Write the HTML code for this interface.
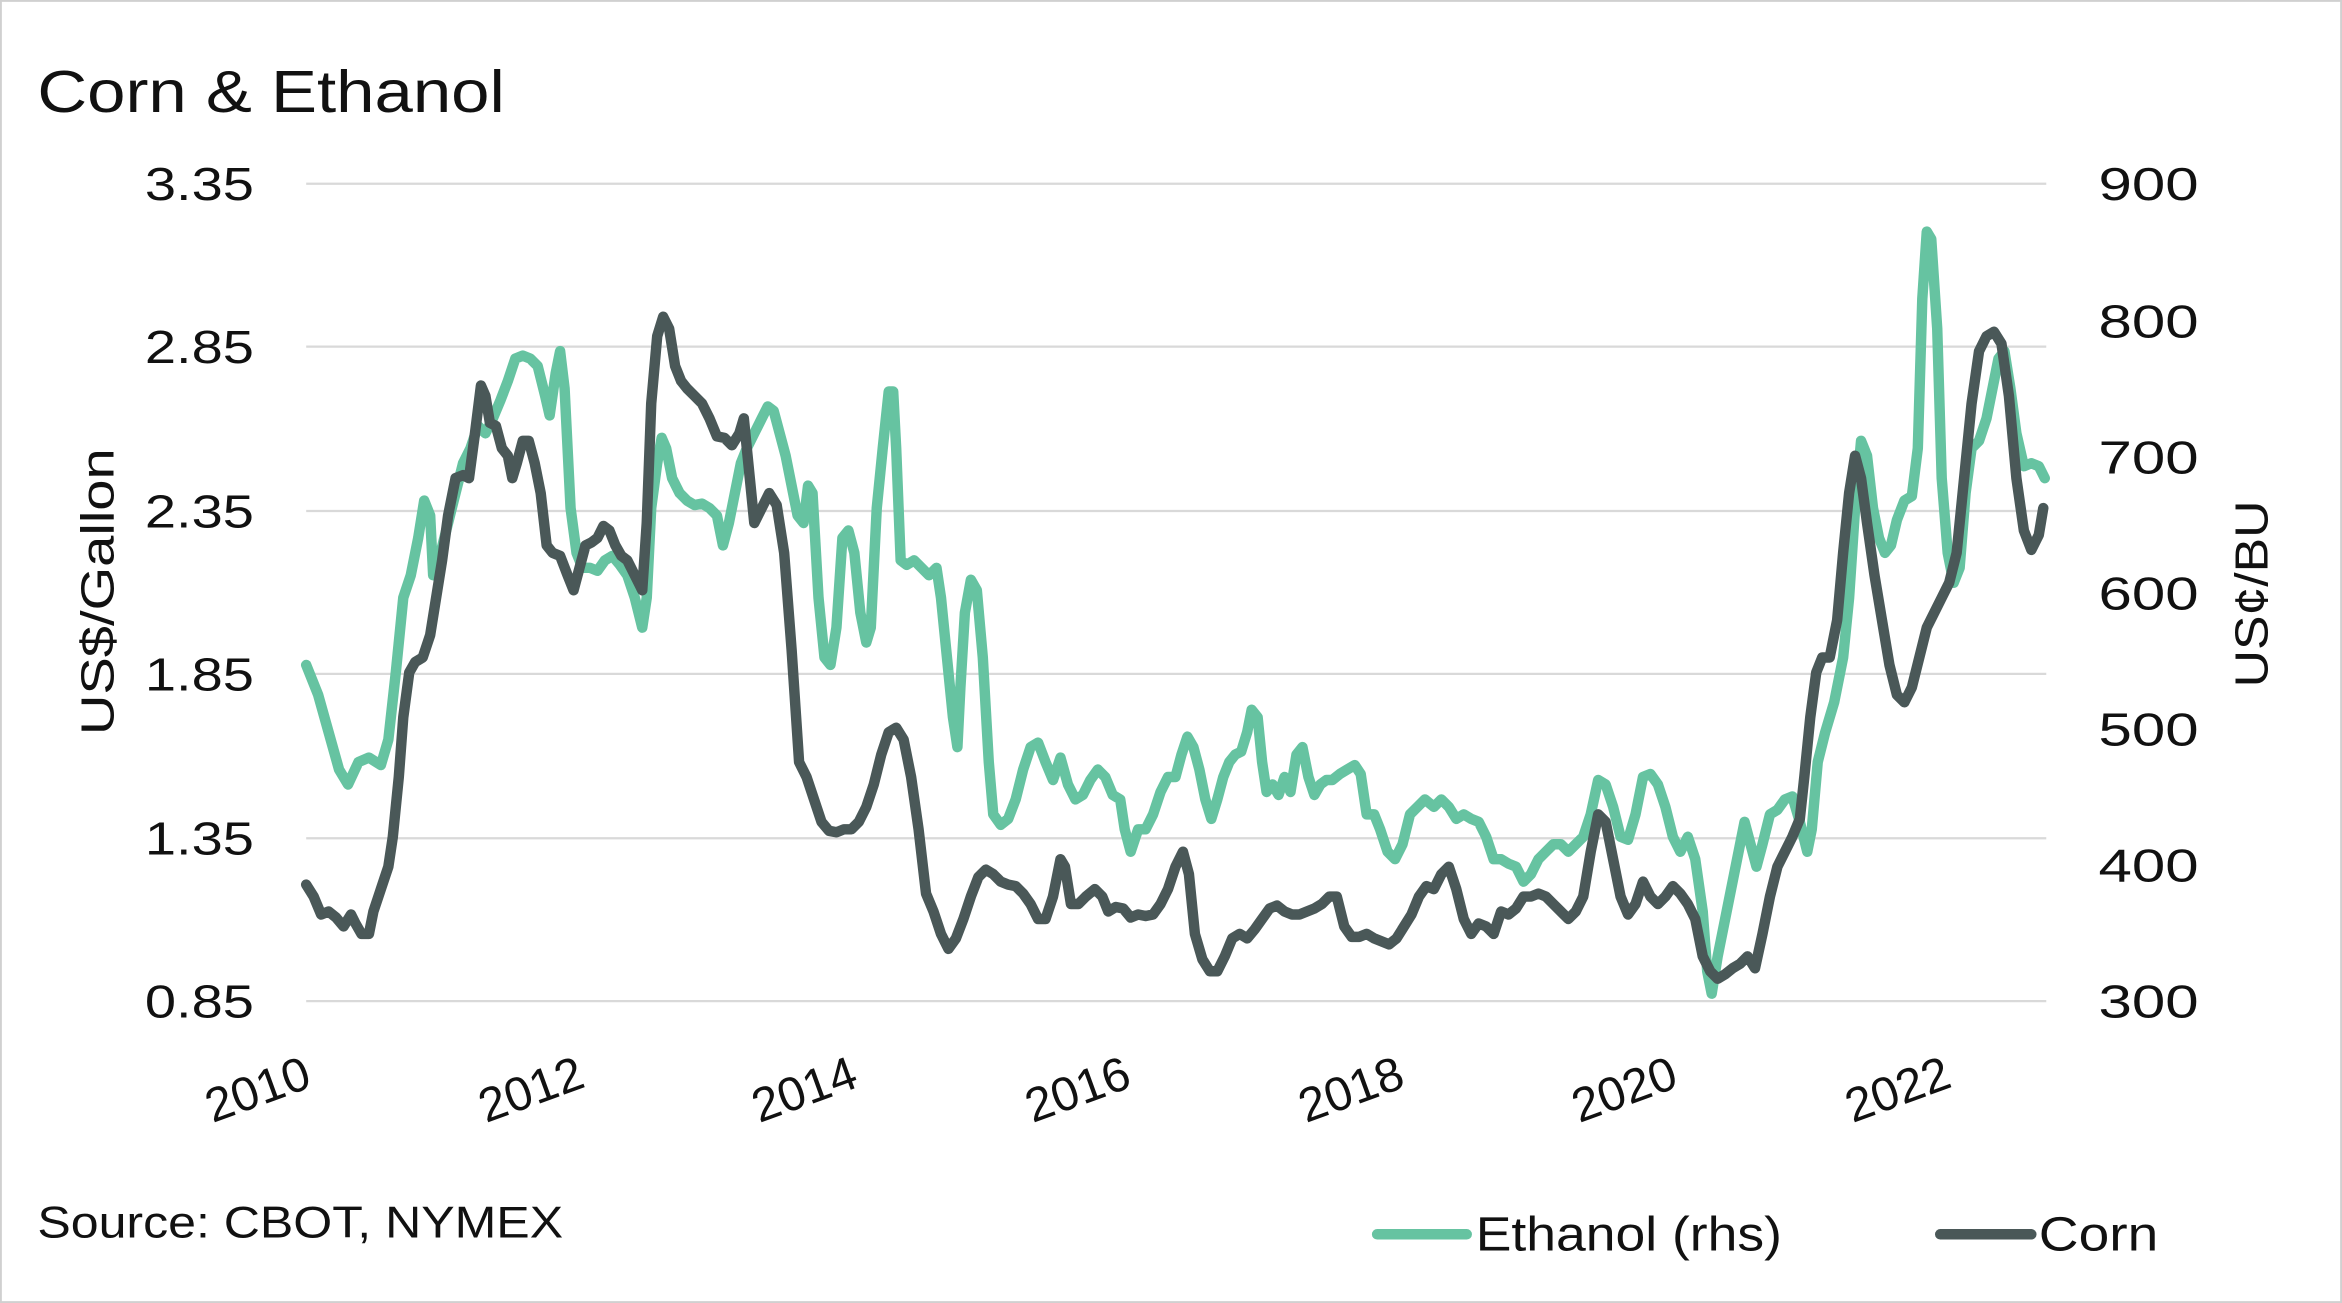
<!DOCTYPE html>
<html><head><meta charset="utf-8">
<style>
html,body{margin:0;padding:0;background:#fff;}
svg{display:block;}
text{font-family:"Liberation Sans",sans-serif;fill:#111;}
</style></head><body>
<svg width="2342" height="1303" viewBox="0 0 1568 872" preserveAspectRatio="none" xmlns="http://www.w3.org/2000/svg">
<rect x="0.5" y="0.5" width="1567" height="871" fill="#fff" stroke="#d0d0d0" stroke-width="1.5"/>
<text x="25" y="75" font-size="40" textLength="313" lengthAdjust="spacingAndGlyphs">Corn &amp; Ethanol</text>
<g stroke="#d9d9d9" stroke-width="1.5">
<line x1="205" x2="1370" y1="123" y2="123"/><line x1="205" x2="1370" y1="232" y2="232"/>
<line x1="205" x2="1370" y1="342" y2="342"/><line x1="205" x2="1370" y1="451" y2="451"/>
<line x1="205" x2="1370" y1="561" y2="561"/><line x1="205" x2="1370" y1="670" y2="670"/>
</g>
<g font-size="31">
<text x="97" y="134" textLength="73" lengthAdjust="spacingAndGlyphs">3.35</text>
<text x="97" y="243" textLength="73" lengthAdjust="spacingAndGlyphs">2.85</text>
<text x="97" y="353" textLength="73" lengthAdjust="spacingAndGlyphs">2.35</text>
<text x="97" y="462" textLength="73" lengthAdjust="spacingAndGlyphs">1.85</text>
<text x="97" y="572" textLength="73" lengthAdjust="spacingAndGlyphs">1.35</text>
<text x="97" y="681" textLength="73" lengthAdjust="spacingAndGlyphs">0.85</text>
</g>
<g font-size="31">
<text x="1405" y="134" textLength="67" lengthAdjust="spacingAndGlyphs">900</text>
<text x="1405" y="226" textLength="67" lengthAdjust="spacingAndGlyphs">800</text>
<text x="1405" y="317" textLength="67" lengthAdjust="spacingAndGlyphs">700</text>
<text x="1405" y="408" textLength="67" lengthAdjust="spacingAndGlyphs">600</text>
<text x="1405" y="499" textLength="67" lengthAdjust="spacingAndGlyphs">500</text>
<text x="1405" y="590" textLength="67" lengthAdjust="spacingAndGlyphs">400</text>
<text x="1405" y="681" textLength="67" lengthAdjust="spacingAndGlyphs">300</text>
</g>
<text transform="translate(76,492) rotate(-90)" font-size="31" textLength="192" lengthAdjust="spacingAndGlyphs">US$/Gallon</text>
<text transform="translate(1518,460) rotate(-90)" font-size="31" textLength="125" lengthAdjust="spacingAndGlyphs">US¢/BU</text>
<g font-size="32" text-anchor="end">
<text transform="translate(210,727) rotate(-20)" textLength="72" lengthAdjust="spacingAndGlyphs">2010</text>
<text transform="translate(393,727) rotate(-20)" textLength="72" lengthAdjust="spacingAndGlyphs">2012</text>
<text transform="translate(576,727) rotate(-20)" textLength="72" lengthAdjust="spacingAndGlyphs">2014</text>
<text transform="translate(759,727) rotate(-20)" textLength="72" lengthAdjust="spacingAndGlyphs">2016</text>
<text transform="translate(942,727) rotate(-20)" textLength="72" lengthAdjust="spacingAndGlyphs">2018</text>
<text transform="translate(1125,727) rotate(-20)" textLength="72" lengthAdjust="spacingAndGlyphs">2020</text>
<text transform="translate(1308,727) rotate(-20)" textLength="72" lengthAdjust="spacingAndGlyphs">2022</text>
</g>
<polyline fill="none" stroke="#66c3a1" stroke-width="7" stroke-linejoin="round" stroke-linecap="round" points="205,445 213,465 220,490 227,515 233,525 240,510 247,507 255,512 260,495 265,450 270,400 275,385 280,360 284,335 288,345 290,385 295,370 300,350 305,330 310,310 315,300 320,285 325,290 330,280 335,268 340,255 345,240 350,238 355,240 360,245 365,265 368,278 372,250 375,235 378,260 382,340 386,370 390,380 395,380 400,382 405,375 410,372 415,378 420,385 425,400 430,420 433,400 436,340 440,310 443,293 446,300 450,320 455,330 460,335 465,338 470,337 475,340 480,345 484,365 488,350 492,330 496,310 500,300 505,290 510,280 514,272 518,275 522,290 526,305 530,325 534,345 538,350 541,325 544,330 548,400 552,440 556,445 560,420 564,360 568,355 572,370 576,410 580,430 583,420 587,340 591,300 595,262 598,262 600,300 603,375 607,378 612,375 617,380 622,385 627,380 630,400 634,440 638,480 641,500 643,460 646,410 650,388 654,395 658,440 662,510 665,545 670,552 675,548 680,535 685,515 690,500 695,497 700,510 705,522 710,507 715,525 720,535 725,532 730,522 735,515 740,520 745,532 750,535 753,555 757,570 762,555 767,555 772,545 777,530 782,520 787,520 791,505 795,493 799,500 803,515 807,535 811,548 815,535 819,520 823,510 827,505 831,503 835,490 838,475 842,480 845,510 848,530 852,525 856,532 860,520 864,530 868,505 872,500 876,520 880,532 884,525 888,522 892,522 897,518 902,515 907,512 911,518 915,545 920,545 924,555 929,570 934,575 939,565 944,545 949,540 954,535 960,540 965,535 970,540 975,548 980,545 985,548 990,550 995,560 1000,575 1005,575 1010,578 1015,580 1020,590 1025,585 1030,575 1035,570 1040,565 1045,565 1050,570 1055,565 1060,560 1065,545 1070,522 1075,525 1080,540 1085,560 1090,562 1095,545 1100,520 1105,518 1110,525 1115,540 1120,560 1125,570 1130,560 1135,575 1140,610 1143,650 1146,665 1150,640 1155,615 1160,590 1165,565 1168,550 1172,565 1176,580 1180,565 1185,545 1190,542 1195,535 1200,533 1205,550 1210,570 1213,555 1217,510 1222,490 1228,470 1234,440 1238,400 1242,340 1246,295 1250,305 1254,340 1258,360 1262,370 1266,365 1270,348 1275,335 1280,332 1284,300 1287,200 1290,155 1293,160 1297,220 1300,320 1304,370 1308,390 1312,380 1316,330 1320,300 1325,295 1330,280 1334,260 1338,240 1342,235 1346,260 1350,290 1355,312 1360,310 1365,312 1369,320"/>
<polyline fill="none" stroke="#4a5858" stroke-width="7" stroke-linejoin="round" stroke-linecap="round" points="205,592 210,600 215,612 220,610 225,614 230,620 235,612 238,618 242,625 247,625 250,610 255,595 260,580 263,560 267,520 270,480 274,450 278,443 283,440 288,425 292,400 296,375 300,345 305,320 310,318 314,320 318,290 322,258 325,265 328,283 332,285 336,300 340,305 343,320 346,310 350,295 354,295 358,310 362,330 366,365 370,370 375,372 380,385 384,395 388,380 392,365 396,363 400,360 404,352 408,355 412,365 416,372 420,375 425,385 430,395 433,350 436,270 440,225 444,212 448,220 452,245 456,255 460,260 465,265 470,270 475,280 480,292 485,293 490,298 495,290 498,280 502,320 505,350 510,340 515,330 520,338 525,370 530,435 535,510 540,520 545,535 550,550 555,556 560,557 565,555 570,555 575,550 580,540 585,525 590,505 595,490 600,487 605,495 610,520 615,555 620,598 625,610 630,625 635,635 640,628 645,615 650,600 655,587 660,582 665,585 670,590 675,592 680,593 685,598 690,605 695,615 700,615 705,600 710,575 713,580 717,605 722,605 727,600 733,595 738,600 742,610 747,607 752,608 757,614 762,612 767,613 772,612 777,605 782,595 787,580 792,570 796,585 800,625 805,642 810,650 815,650 820,640 825,628 830,625 835,628 840,622 845,615 850,608 855,606 860,610 865,612 870,612 875,610 880,608 885,605 890,600 895,600 900,620 905,627 910,627 915,625 920,628 925,630 930,632 935,628 940,620 945,612 950,600 955,593 960,595 965,585 970,580 975,595 980,615 985,625 990,618 995,620 1000,625 1005,610 1010,612 1015,608 1020,600 1025,600 1030,598 1035,600 1040,605 1045,610 1050,615 1055,610 1060,600 1065,570 1070,545 1075,550 1080,575 1085,600 1090,612 1095,605 1100,590 1105,600 1110,605 1115,600 1120,593 1125,598 1130,605 1135,615 1140,640 1145,650 1150,655 1155,652 1160,648 1165,645 1170,640 1175,648 1180,625 1185,600 1190,580 1195,570 1200,560 1205,548 1208,520 1212,480 1216,450 1220,440 1225,440 1230,415 1234,370 1238,330 1242,305 1246,320 1250,350 1255,385 1260,415 1265,445 1270,465 1275,470 1280,460 1285,440 1290,420 1295,410 1300,400 1305,390 1310,370 1315,320 1320,270 1325,235 1330,225 1335,222 1340,230 1345,265 1350,320 1355,355 1360,368 1365,358 1368,340"/>
<text x="25" y="828" font-size="30" textLength="352" lengthAdjust="spacingAndGlyphs">Source: CBOT, NYMEX</text>
<line x1="922" x2="982" y1="826" y2="826" stroke="#66c3a1" stroke-width="7" stroke-linecap="round"/>
<text x="988" y="837" font-size="32" textLength="205" lengthAdjust="spacingAndGlyphs">Ethanol (rhs)</text>
<line x1="1299" x2="1360" y1="826" y2="826" stroke="#4a5858" stroke-width="7" stroke-linecap="round"/>
<text x="1365" y="837" font-size="32" textLength="80" lengthAdjust="spacingAndGlyphs">Corn</text>
</svg>
</body></html>
